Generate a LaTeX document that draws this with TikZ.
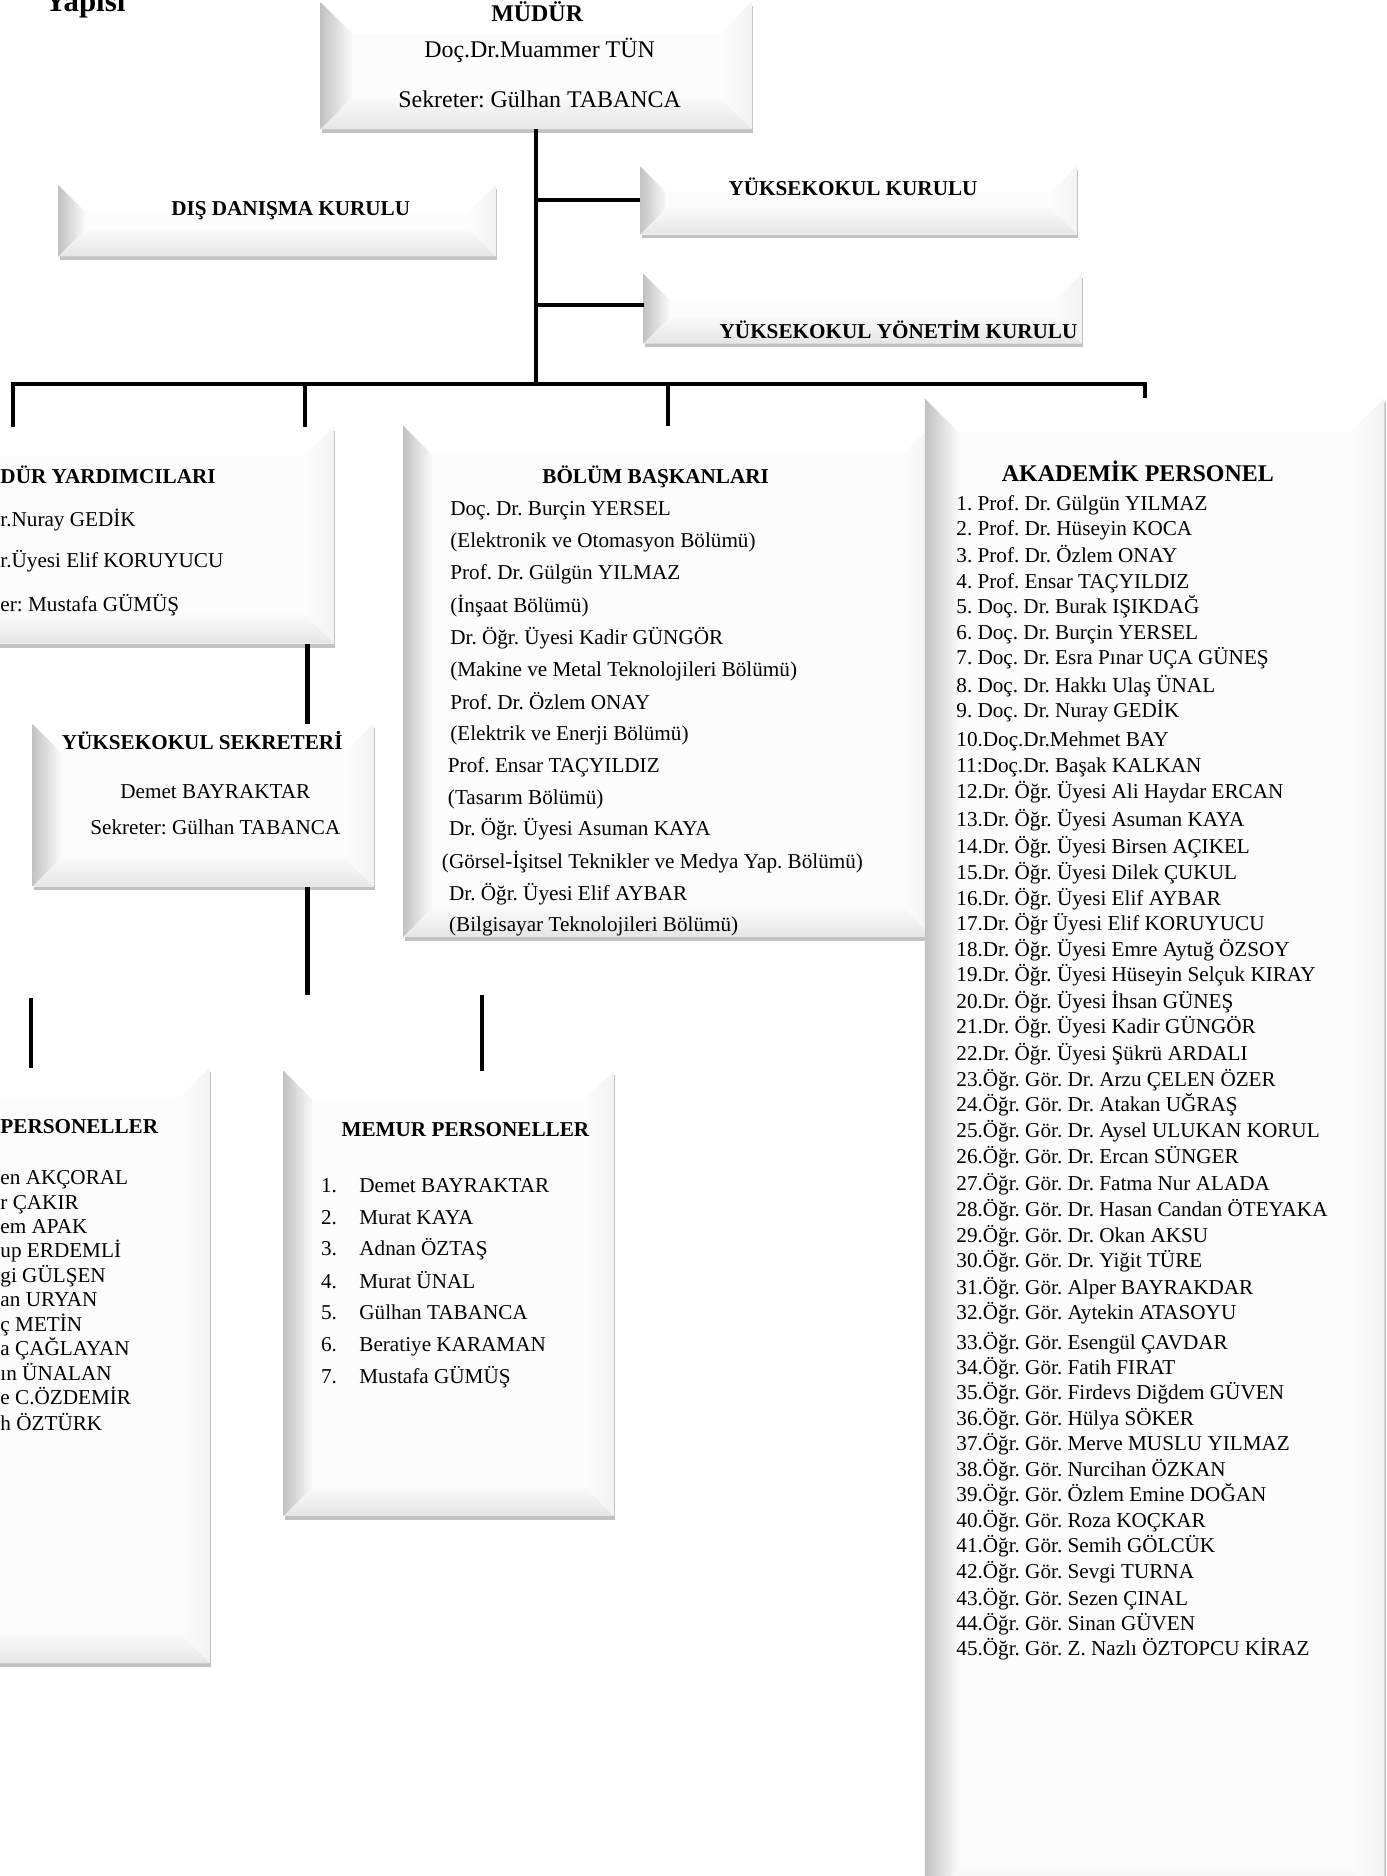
\documentclass[tikz,border=0pt]{standalone}
\usepackage{fontspec}
\setmainfont{Liberation Serif}
\usetikzlibrary{fit,shadows}
\frenchspacing
\tikzset{
  conn/.style={line width=1.7pt, black},
  bevelbox/.style={inner sep=0pt, outer sep=0pt, fill=black!1,
    drop shadow={shadow xshift=0.7pt, shadow yshift=-1.6pt, opacity=0.4, fill=black!60},
    path picture={
      \fill[white] (path picture bounding box.north west) -- ([shift={(#1,-#1)}]path picture bounding box.north west) -- ([shift={(-#1,-#1)}]path picture bounding box.north east) -- (path picture bounding box.north east) -- cycle;
      \fill[left color=black!1, right color=black!5] (path picture bounding box.south east) -- ([shift={(-#1,#1)}]path picture bounding box.south east) -- ([shift={(-#1,-#1)}]path picture bounding box.north east) -- (path picture bounding box.north east) -- cycle;
      \fill[top color=black!2, bottom color=black!10] (path picture bounding box.south west) -- ([shift={(#1,#1)}]path picture bounding box.south west) -- ([shift={(-#1,#1)}]path picture bounding box.south east) -- (path picture bounding box.south east) -- cycle;
      \fill[left color=black!24, right color=black!2] (path picture bounding box.south west) -- (path picture bounding box.north west) -- ([shift={(#1,-#1)}]path picture bounding box.north west) -- ([shift={(#1,#1)}]path picture bounding box.south west) -- cycle;
    }},
  bevelbox/.default=11pt,
  t/.style={inner sep=0pt, font=\fontsize{8.85}{10.6}\selectfont, text height=1.5ex, text depth=0.25ex},
  tb/.style={t, font=\fontsize{8.85}{10.6}\selectfont\bfseries},
  tm/.style={t, font=\fontsize{10}{12}\selectfont},
  tmb/.style={t, font=\fontsize{10}{12}\selectfont\bfseries},
}
\begin{document}
\begin{tikzpicture}[x=0.5pt,y=-0.5pt]
\useasboundingbox (0,0) rectangle (1159,1568);
\clip (0,0) rectangle (1159,1568);

% ---------- boxes ----------
\node[bevelbox=13pt, fit={(268,2) (628,108)}] (mudur) {};
\node[bevelbox=11pt, fit={(49,155) (414,214)}] (dis) {};
\node[bevelbox=11pt, fit={(535,139) (900,196)}] (ykk) {};
\node[bevelbox=11pt, fit={(538,229) (904,287)}] (yyk) {};
\node[bevelbox=12pt, fit={(-30,357) (279,538)}] (myd) {};
\node[bevelbox=12pt, fit={(337,356) (779,783)}] (bolum) {};
\node[bevelbox=14pt, fit={(773,333) (1157,1590)}] (akad) {};
\node[bevelbox=12pt, fit={(27,605) (312,741)}] (sek) {};
\node[bevelbox=12pt, fit={(-30,893) (175,1390)}] (isci) {};
\node[bevelbox=12pt, fit={(237,895) (513,1267)}] (memur) {};

% ---------- connector points ----------
\coordinate (t1) at (11,321);
\coordinate (t2) at (255,321);
\coordinate (t3) at (558,321);
\coordinate (t4) at (957,321);
\coordinate (xs) at (257,0);
\coordinate (e1) at (257,832);
\coordinate (e2) at (26,834);
\coordinate (e3) at (403,832);

% ---------- connectors ----------
\draw[conn] (mudur.south) -- (mudur.south |- t3);
\draw[conn] ([xshift=-0.85pt]t1) -- ([xshift=0.85pt]t4);
\draw[conn] (t1) -- (t1 |- myd.north);
\draw[conn] (t2) -- (t2 |- myd.north);
\draw[conn] (t3) -- (bolum.north);
\draw[conn] (t4) -- (t4 |- akad.north);
\draw[conn] (ykk.west) -- (ykk.west -| mudur.south);
\draw[conn] ([yshift=1.5pt]yyk.west) -- ([yshift=1.5pt]yyk.west -| mudur.south);
\draw[conn] (xs |- myd.south) -- (xs |- sek.north);
\draw[conn] (xs |- sek.south) -- (e1);
\draw[conn] (e2) -- (e2 |- isci.north);
\draw[conn] (e3) -- (e3 |- memur.north);

% ---------- texts ----------
\node[font=\fontsize{12.9}{15}\selectfont\bfseries, anchor=base west, inner sep=0pt] (yap) at (37,10) {Yapısı};

\node[tmb] (mudurT) at (449,12) {MÜDÜR};
\node[tm] (mudurN) at (451,42) {Doç.Dr.Muammer TÜN};
\node[tm] (mudurS) at (451,84) {Sekreter: Gülhan TABANCA};

\node[tb] (disT) at (243,174) {DIŞ DANIŞMA KURULU};
\node[tb] (ykkT) at (713,158) {YÜKSEKOKUL KURULU};
\node[tb] (yykT) at (751,277) {YÜKSEKOKUL YÖNETİM KURULU};

\node[tb, anchor=west] (mydT) at (0,398) {DÜR YARDIMCILARI};
\node[t, anchor=west] (myd1) at (0,434) {r.Nuray GEDİK};
\node[t, anchor=west] (myd2) at (0,469) {r.Üyesi Elif KORUYUCU};
\node[t, anchor=west] (myd3) at (0,505) {er: Mustafa GÜMÜŞ};

\node[tb] (sekT) at (169,621) {YÜKSEKOKUL SEKRETERİ};
\node[t] (sek1) at (180,662) {Demet BAYRAKTAR};
\node[t] (sek2) at (180,692) {Sekreter: Gülhan TABANCA};

\node[tb] (bolT) at (548,398) {BÖLÜM BAŞKANLARI};
\foreach \x/\y/\s [count=\i] in {
 376/425/{Doç. Dr. Burçin YERSEL},
 376/452/{(Elektronik ve Otomasyon Bölümü)},
 376/479/{Prof. Dr. Gülgün YILMAZ},
 376/506/{(İnşaat Bölümü)},
 376/533/{Dr. Öğr. Üyesi Kadir GÜNGÖR},
 376/560/{(Makine ve Metal Teknolojileri Bölümü)},
 376/587/{Prof. Dr. Özlem ONAY},
 376/613/{(Elektrik ve Enerji Bölümü)},
 374/640/{Prof. Ensar TAÇYILDIZ},
 374/667/{(Tasarım Bölümü)},
 375/693/{Dr. Öğr. Üyesi Asuman KAYA},
 369/720/{(Görsel-İşitsel Teknikler ve Medya Yap. Bölümü)},
 375/747/{Dr. Öğr. Üyesi Elif AYBAR},
 375/773/{(Bilgisayar Teknolojileri Bölümü)}}
  \node[t, anchor=west] (bol\i) at (\x,\y) {\s};

\node[tb, anchor=west] (isciT) at (0,942) {PERSONELLER};
\foreach \y/\s [count=\i] in {
 984/{en AKÇORAL}, 1005/{r ÇAKIR}, 1025/{em APAK}, 1045/{up ERDEMLİ},
 1066/{gi GÜLŞEN}, 1086/{an URYAN}, 1107/{ç METİN}, 1127/{a ÇAĞLAYAN},
 1148/{ın ÜNALAN}, 1168/{e C.ÖZDEMİR}, 1190/{h ÖZTÜRK}}
  \node[t, anchor=west] (isci\i) at (0,\y) {\s};

\node[tb] (memT) at (389,944) {MEMUR PERSONELLER};
\foreach \y/\s [count=\i] in {
 991/{Demet BAYRAKTAR}, 1018/{Murat KAYA}, 1044/{Adnan ÖZTAŞ},
 1071/{Murat ÜNAL}, 1097/{Gülhan TABANCA}, 1124/{Beratiye KARAMAN},
 1151/{Mustafa GÜMÜŞ}}
  {\node[t, anchor=west] (memN\i) at (268,\y) {\i.};
   \node[t, anchor=west] (mem\i) at (300,\y) {\s};}

\node[tmb] (akT) at (951,397) {AKADEMİK PERSONEL};
\foreach \y/\s [count=\i] in {
 421/{1. Prof. Dr. Gülgün YILMAZ},
 442/{2. Prof. Dr. Hüseyin KOCA},
 464/{3. Prof. Dr. Özlem ONAY},
 486/{4. Prof. Ensar TAÇYILDIZ},
 507/{5. Doç. Dr. Burak IŞIKDAĞ},
 529/{6. Doç. Dr. Burçin YERSEL},
 550/{7. Doç. Dr. Esra Pınar UÇA GÜNEŞ},
 573/{8. Doç. Dr. Hakkı Ulaş ÜNAL},
 594/{9. Doç. Dr. Nuray GEDİK},
 618/{10.Doç.Dr.Mehmet BAY},
 640/{11:Doç.Dr. Başak KALKAN},
 662/{12.Dr. Öğr. Üyesi Ali Haydar ERCAN},
 685/{13.Dr. Öğr. Üyesi Asuman KAYA},
 708/{14.Dr. Öğr. Üyesi Birsen AÇIKEL},
 729/{15.Dr. Öğr. Üyesi Dilek ÇUKUL},
 751/{16.Dr. Öğr. Üyesi Elif AYBAR},
 772/{17.Dr. Öğr Üyesi Elif KORUYUCU},
 794/{18.Dr. Öğr. Üyesi Emre Aytuğ ÖZSOY},
 815/{19.Dr. Öğr. Üyesi Hüseyin Selçuk KIRAY},
 837/{20.Dr. Öğr. Üyesi İhsan GÜNEŞ},
 858/{21.Dr. Öğr. Üyesi Kadir GÜNGÖR},
 881/{22.Dr. Öğr. Üyesi Şükrü ARDALI},
 902/{23.Öğr. Gör. Dr. Arzu ÇELEN ÖZER},
 923/{24.Öğr. Gör. Dr. Atakan UĞRAŞ},
 945/{25.Öğr. Gör. Dr. Aysel ULUKAN KORUL},
 967/{26.Öğr. Gör. Dr. Ercan SÜNGER},
 989/{27.Öğr. Gör. Dr. Fatma Nur ALADA},
 1011/{28.Öğr. Gör. Dr. Hasan Candan ÖTEYAKA},
 1033/{29.Öğr. Gör. Dr. Okan AKSU},
 1054/{30.Öğr. Gör. Dr. Yiğit TÜRE},
 1076/{31.Öğr. Gör. Alper BAYRAKDAR},
 1097/{32.Öğr. Gör. Aytekin ATASOYU},
 1122/{33.Öğr. Gör. Esengül ÇAVDAR},
 1143/{34.Öğr. Gör. Fatih FIRAT},
 1164/{35.Öğr. Gör. Firdevs Diğdem GÜVEN},
 1186/{36.Öğr. Gör. Hülya SÖKER},
 1207/{37.Öğr. Gör. Merve MUSLU YILMAZ},
 1228/{38.Öğr. Gör. Nurcihan ÖZKAN},
 1249/{39.Öğr. Gör. Özlem Emine DOĞAN},
 1271/{40.Öğr. Gör. Roza KOÇKAR},
 1292/{41.Öğr. Gör. Semih GÖLCÜK},
 1314/{42.Öğr. Gör. Sevgi TURNA},
 1336/{43.Öğr. Gör. Sezen ÇINAL},
 1357/{44.Öğr. Gör. Sinan GÜVEN},
 1378/{45.Öğr. Gör. Z. Nazlı ÖZTOPCU KİRAZ}}
  \node[t, anchor=west] (ak\i) at (799,\y) {\s};
\end{tikzpicture}
\end{document}
